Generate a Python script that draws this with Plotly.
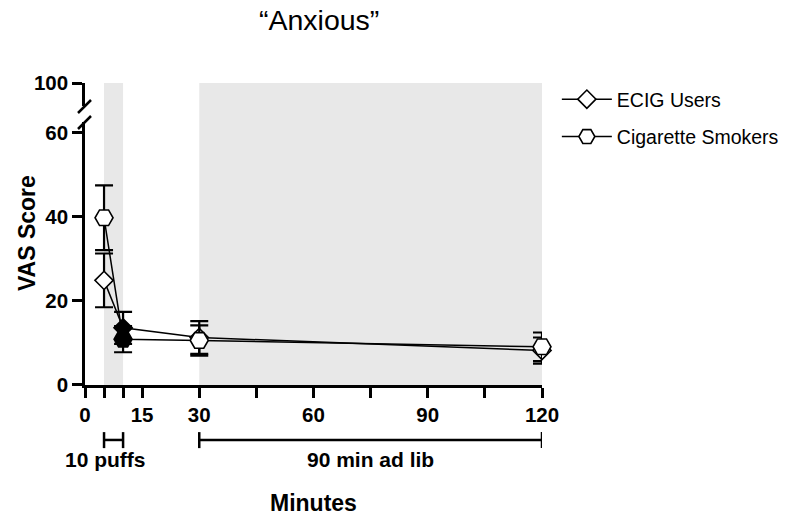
import plotly.graph_objects as go

# Time points (minutes) and mean VAS "Anxious" ratings with SEM
minutes = [5, 10, 30, 120]
ecig_mean = [24.9, 13.6, 11.3, 8.2]
ecig_sem = [6.4, 3.8, 3.9, 3.1]
cig_mean = [39.8, 10.9, 10.6, 9.1]
cig_sem = [7.7, 3.1, 3.6, 3.4]

# Marker fill per time point (solid at the end of the puffing bout)
point_fill = ["white", "black", "white", "white"]

x_tickvals = [0, 5, 10, 15, 30, 45, 60, 75, 90, 105, 120]
x_ticktext = ["0", "", "", "15", "30", "", "60", "", "90", "", "120"]
y_tickvals = [0, 20, 40, 60]

# Shaded sessions and brackets
puff_window = (5, 10)
adlib_window = (30, 120)

FONT = "Liberation Sans, Arial, sans-serif"
LW = 2.5

fig = go.Figure()

fig.add_trace(go.Scatter(
    x=minutes, y=ecig_mean, name="ECIG Users", mode="lines+markers",
    line=dict(color="black", width=1.5),
    marker=dict(symbol="diamond", size=14, color=point_fill,
                line=dict(color="black", width=1.6)),
    error_y=dict(type="data", array=ecig_sem, color="black", thickness=2.2, width=9),
    cliponaxis=False, legendgroup="a",
))
fig.add_trace(go.Scatter(
    x=minutes, y=cig_mean, name="Cigarette Smokers", mode="lines+markers",
    line=dict(color="black", width=1.5),
    marker=dict(symbol="hexagon2", size=18, color=point_fill,
                line=dict(color="black", width=1.6)),
    error_y=dict(type="data", array=cig_sem, color="black", thickness=2.2, width=9),
    cliponaxis=False, legendgroup="b",
))

shapes = []
for x0, x1 in (puff_window, adlib_window):
    shapes.append(dict(type="rect", xref="x", yref="paper", x0=x0, x1=x1, y0=0, y1=1,
                       fillcolor="#e8e8e8", line=dict(width=0), layer="below"))
    # bracket under the axis
    shapes.append(dict(type="line", xref="x", yref="paper", x0=x0, x1=x1, y0=-0.182, y1=-0.182,
                       line=dict(color="black", width=LW)))
    for xx in (x0, x1):
        shapes.append(dict(type="line", xref="x", yref="paper", x0=xx, x1=xx, y0=-0.156, y1=-0.209,
                           line=dict(color="black", width=LW)))

# axis break marks on the y axis (pixel positions converted to paper units)
brk = [((78, 113), (91, 100)), ((78, 129), (91, 116))]
for (xa, ya), (xb, yb) in brk:
    shapes.append(dict(type="line", xref="paper", yref="paper",
                       x0=(xa - 85) / 457, y0=(385 - ya) / 302,
                       x1=(xb - 85) / 457, y1=(385 - yb) / 302,
                       line=dict(color="black", width=LW)))

annotations = [
    dict(text="VAS Score", xref="paper", yref="paper", x=(27 - 85) / 457, y=0.503,
         xanchor="center", yanchor="middle",
         textangle=-90, showarrow=False, font=dict(family=FONT, size=23, color="black", weight="bold")),
    dict(text="Minutes", xref="paper", yref="paper", x=0.501, y=-0.391,
         xanchor="center", yanchor="middle",
         showarrow=False, font=dict(family=FONT, size=23, color="black", weight="bold")),
    dict(text="10 puffs", xref="paper", yref="paper", x=(105 - 85) / 457, y=-0.248,
         xanchor="center", yanchor="middle",
         showarrow=False, font=dict(family=FONT, size=21, color="black", weight="bold")),
    dict(text="90 min ad lib", xref="x", yref="paper", x=75, y=-0.248,
         xanchor="center", yanchor="middle",
         showarrow=False, font=dict(family=FONT, size=21, color="black", weight="bold")),
]

tickfont = dict(family=FONT, size=20.5, color="black", weight="bold")

fig.update_layout(
    width=792, height=523,
    margin=dict(l=85, r=250, t=83, b=138, autoexpand=False),
    paper_bgcolor="white", plot_bgcolor="rgba(0,0,0,0)",
    title=dict(text="“Anxious”", x=0.403, xanchor="center", y=1 - 20 / 523, yanchor="middle",
               font=dict(family=FONT, size=28.5, color="black")),
    xaxis=dict(range=[0, 120], tickvals=x_tickvals, ticktext=x_ticktext,
               showline=True, linecolor="black", linewidth=LW, ticks="outside",
               ticklen=10, tickwidth=LW, tickcolor="black", showgrid=False, zeroline=False,
               tickfont=tickfont),
    yaxis=dict(range=[0, 62.6], domain=[0, 0.871], tickvals=y_tickvals,
               showline=True, linecolor="black", linewidth=LW, ticks="outside",
               ticklen=10, tickwidth=LW, tickcolor="black", showgrid=False, zeroline=False,
               tickfont=tickfont),
    yaxis2=dict(range=[90, 100], domain=[0.924, 1], tickvals=[100], anchor="x",
                showline=True, linecolor="black", linewidth=LW, ticks="outside",
                ticklen=10, tickwidth=LW, tickcolor="black", showgrid=False, zeroline=False,
                tickfont=tickfont),
    shapes=shapes,
    annotations=annotations,
    showlegend=True,
    legend=dict(x=1.0325, xanchor="left", y=1.01, yanchor="top", traceorder="grouped",
                tracegroupgap=9, itemwidth=50, bgcolor="rgba(0,0,0,0)",
                font=dict(family=FONT, size=19.5, color="black")),
)

# an invisible point keeps the upper axis segment drawn
fig.add_trace(go.Scatter(x=[0], y=[100], yaxis="y2", mode="markers",
                         marker=dict(opacity=0), showlegend=False, hoverinfo="skip"))

fig.write_html("out.html")
